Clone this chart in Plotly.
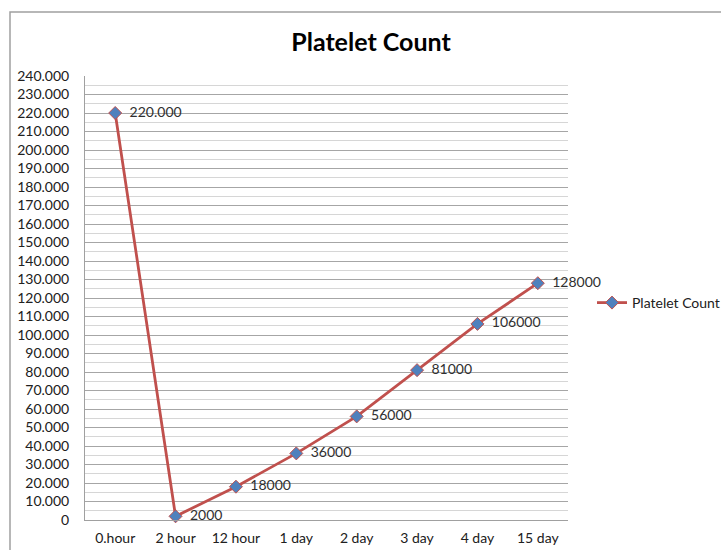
import plotly.graph_objects as go

# Platelet count over time after the event
times = ["0.hour", "2 hour", "12 hour", "1 day", "2 day", "3 day", "4 day", "15 day"]
platelets = [220000, 2000, 18000, 36000, 56000, 81000, 106000, 128000]
# first point labelled with a dot thousands separator, the rest as plain integers
dotted_label = [True, False, False, False, False, False, False, False]

y_ticks = list(range(0, 240001, 10000))
y_ticktext = ["0" if v == 0 else f"{v:,}".replace(",", ".") for v in y_ticks]

labels = [
    f"{v:,}".replace(",", ".") if d else str(v)
    for v, d in zip(platelets, dotted_label)
]

font_family = "Lato, 'Open Sans', sans-serif"
fs = 14

fig = go.Figure()
fig.add_trace(go.Scatter(
    x=times,
    y=platelets,
    mode="lines+markers+text",
    name="Platelet Count",
    text=["  " + t for t in labels],
    textposition="middle right",
    textfont=dict(family=font_family, size=fs, color="#303030"),
    cliponaxis=False,
    line=dict(color="#C0504D", width=2.8),
    marker=dict(symbol="diamond", size=10, color="#4F81BD",
                line=dict(color="#C0504D", width=1)),
))

W, H = 721, 550
L, R, T, B = 85, 153, 76, 30
pw = W - L - R
ph = H - T - B

def px_x(p):
    return (p - L) / pw

def px_y(p):
    return (H - B - p) / ph

fig.update_layout(
    width=W, height=H,
    margin=dict(l=L, r=R, t=T, b=B, autoexpand=False),
    paper_bgcolor="white",
    plot_bgcolor="white",
    font=dict(family=font_family, size=fs, color="#202020"),
    title=dict(text="<b>Platelet Count</b>", x=(371 / W), xanchor="center",
               y=1 - 42 / H, yanchor="middle",
               font=dict(family=font_family, size=25, color="#000000")),
    showlegend=True,
    legend=dict(x=px_x(592), y=px_y(303), xanchor="left", yanchor="middle",
                font=dict(family=font_family, size=fs, color="#202020"),
                itemwidth=30, bgcolor="rgba(0,0,0,0)", tracegroupgap=0),
    shapes=[dict(type="rect", xref="paper", yref="paper",
                 x0=px_x(10), x1=px_x(740), y0=px_y(570), y1=px_y(12),
                 line=dict(color="#A0A0A0", width=1.5), layer="below")],
)

fig.update_xaxes(
    type="category",
    range=[-0.5, len(times) - 0.5],
    automargin=False,
    showgrid=False,
    showline=True, linecolor="#A0A0A0", linewidth=1,
    ticks="", ticklabelstandoff=5,
    tickfont=dict(family=font_family, size=fs, color="#202020"),
)
fig.update_yaxes(
    range=[0, 240000],
    automargin=False,
    tickvals=y_ticks, ticktext=y_ticktext,
    showgrid=True, gridcolor="#A6A6A6", gridwidth=1,
    minor=dict(dtick=5000, tick0=0, showgrid=True, gridcolor="#D6D6D6", gridwidth=1),
    showline=True, linecolor="#A0A0A0", linewidth=1,
    zeroline=False,
    ticks="", ticklabelstandoff=12,
    tickfont=dict(family=font_family, size=fs, color="#202020"),
)

fig.write_html("out.html")
